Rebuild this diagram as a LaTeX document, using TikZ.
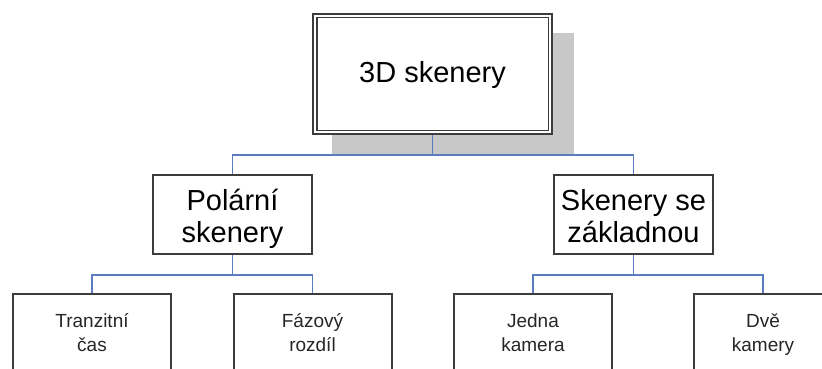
\documentclass[tikz,border=0pt]{standalone}
\usepackage{fontspec}
\setmainfont{Liberation Sans}
\usetikzlibrary{backgrounds}
\definecolor{conncol}{RGB}{90,125,192}
\definecolor{boxcol}{RGB}{60,60,60}
\definecolor{shadowcol}{RGB}{200,200,200}
\begin{document}
\begin{tikzpicture}[x=1pt,y=-1pt,
  topbox/.style={draw=boxcol, line width=1.7pt, double=white, double distance=2pt, fill=white, minimum width=235.4pt, minimum height=116.4pt, inner sep=0pt, outer sep=0pt, font=\fontsize{29}{32}\selectfont},
  midbox/.style={draw=boxcol, line width=2pt, fill=white, minimum width=159pt, minimum height=79pt, inner sep=0pt, outer sep=0pt, align=center, font=\fontsize{29}{32}\selectfont},
  leafbox/.style={draw=boxcol, line width=2pt, fill=white, minimum width=158pt, minimum height=150pt, inner sep=0pt, outer sep=0pt, anchor=north},
  leaftext/.style={anchor=north, inner sep=0pt, align=center, text=black!85, font=\fontsize{19}{24}\selectfont},
  conn/.style={draw=conncol, line width=1.8pt}]
\useasboundingbox (0,0) rectangle (822,369);
\clip (0,0) rectangle (822,369);
% boxes
\node[topbox] (top) at (432.5,74) {\rule{0pt}{27pt}3D skenery\strut};
\node[midbox] (pol) at (232.5,214.5) {\rule{0pt}{34.4pt}Polární\\skenery\strut};
\node[midbox] (sken) at (633.5,214.5) {\rule{0pt}{34.4pt}Skenery se\\základnou\strut};
\node[leafbox] (lf1) at (92,294) {};
\node[leafbox] (lf2) at (312.5,294) {};
\node[leafbox] (lf3) at (533,294) {};
\node[leafbox, minimum width=138pt] (lf4) at (763,294) {};
\node[leaftext] (tx1) at ([yshift=-16.2pt]lf1.north) {\strut Tranzitní\\čas\strut};
\node[leaftext] (tx2) at ([yshift=-16.2pt]lf2.north) {\strut Fázový\\rozdíl\strut};
\node[leaftext] (tx3) at ([yshift=-16.2pt]lf3.north) {\strut Jedna\\kamera\strut};
\node[leaftext] (tx4) at ([yshift=-16.2pt]lf4.north) {\strut Dvě\\kamery\strut};
\coordinate (j1) at (432.5,155);
\coordinate (j2) at (232.5,275);
\coordinate (j3) at (633.5,275);
\begin{pgfonlayer}{background}
  \fill[white] (0,0) rectangle (822,369);
  \fill[shadowcol] (332,33) rectangle (574,155);
  \draw[conn] (top.south) -- (j1);
  \draw[conn] (pol.north) |- (j1) -| (sken.north);
  \draw[conn] (pol.south) -- (j2);
  \draw[conn] (lf1.north) |- (j2) -| (lf2.north);
  \draw[conn] (sken.south) -- (j3);
  \draw[conn] (lf3.north) |- (j3) -| (lf4.north);
\end{pgfonlayer}
\end{tikzpicture}
\end{document}
